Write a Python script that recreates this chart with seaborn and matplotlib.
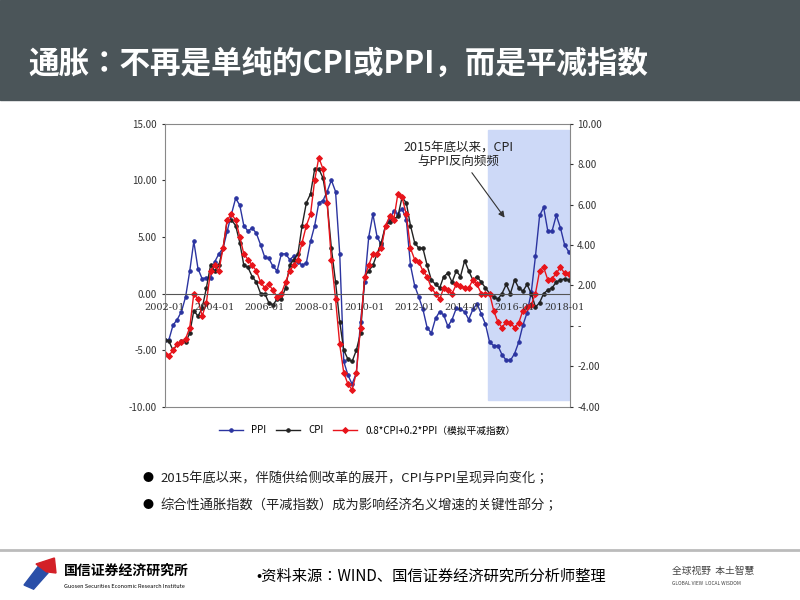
import matplotlib
matplotlib.use('Agg')
import matplotlib.pyplot as plt
import matplotlib.patches as mpatches
from matplotlib import font_manager
from matplotlib.ticker import FuncFormatter
import seaborn as sns
import pandas as pd

names = {f.name for f in font_manager.fontManager.ttflist}
cjk = [n for n in ['Noto Sans CJK SC', 'Noto Sans CJK JP', 'Noto Sans CJK TC',
                   'Noto Sans CJK KR'] if n in names]
plt.rcParams['font.family'] = cjk + ['DejaVu Sans']

# bi-monthly readings, 2002-01 .. 2018-03
ppi = [-4.1, -4.1, -2.8, -2.3, -1.6, -0.3,
       2.0, 4.6, 2.2, 1.3, 1.4, 1.4,
       2.8, 3.5, 4.0, 5.5, 7.0, 8.4,
       7.8, 6.0, 5.5, 5.8, 5.3, 4.3,
       3.2, 3.1, 2.4, 2.0, 3.5, 3.5,
       3.0, 3.3, 2.8, 2.5, 2.7, 4.6,
       6.0, 8.0, 8.2, 9.0, 10.0, 9.0,
       3.5, -6.0, -7.2, -8.0, -7.0, -2.5,
       1.0, 5.0, 7.0, 5.0, 4.3, 6.0,
       6.5, 7.3, 7.0, 7.5, 6.5, 2.5,
       0.7, -0.3, -1.4, -3.0, -3.5, -2.2,
       -1.6, -1.9, -2.9, -2.3, -1.3, -1.4,
       -1.6, -2.3, -1.4, -0.9, -1.8, -2.7,
       -4.3, -4.6, -4.6, -5.4, -5.9, -5.9,
       -5.3, -4.3, -2.8, -1.7, 0.1, 3.3,
       6.9, 7.6, 5.5, 5.5, 6.9, 5.8,
       4.3, 3.7]
cpi = [-4.1, -4.2, -5.0, -4.5, -4.2, -4.3,
       -3.5, -1.5, -2.0, -1.3, 0.5, 2.5,
       2.0, 2.5, 4.0, 6.5, 6.5, 6.0,
       4.5, 2.5, 2.3, 1.5, 1.0, 0.0,
       0.0, -0.8, -1.0, -0.5, -0.5, 0.5,
       2.5, 3.0, 3.5, 6.0, 8.0, 8.8,
       11.0, 11.0, 10.2, 8.0, 4.0, 1.0,
       -2.5, -5.0, -5.8, -6.0, -5.0, -3.5,
       1.5, 2.0, 2.5, 3.5, 4.5, 6.0,
       6.3, 6.6, 6.8, 8.5, 8.0, 6.0,
       4.5, 4.0, 4.0, 2.5, 1.2, 0.8,
       0.5, 1.5, 1.8, 1.0, 2.0, 1.5,
       2.9, 2.0, 1.2, 1.5, 1.0, 0.5,
       0.0, -0.3, -0.5, 0.0, 0.8, 0.0,
       1.2, 0.5, 0.2, 0.8, 0.0, -1.2,
       -0.8, 0.0, 0.3, 0.5, 1.0, 1.2,
       1.3, 1.2]
deflator = [-5.3, -5.5, -5.0, -4.5, -4.3, -4.0,
            -3.0, 0.0, -0.5, -2.0, -0.8, 2.0,
            2.5, 2.0, 4.0, 6.5, 7.0, 6.5,
            5.0, 3.5, 3.0, 2.5, 2.0, 1.0,
            0.5, 0.8, 0.3, -0.3, 0.0, 1.0,
            2.0, 2.5, 3.0, 4.5, 6.0, 7.0,
            10.0, 12.0, 11.0, 8.0, 3.0, -0.5,
            -4.5, -7.0, -8.0, -8.5, -7.0, -3.0,
            1.5, 2.5, 3.5, 3.5, 4.0, 6.0,
            6.8, 6.5, 8.8, 8.5, 7.0, 4.0,
            3.0, 2.8, 2.0, 1.5, 0.5, 0.0,
            -0.5, 0.5, 0.3, 0.0, 0.8, 0.7,
            0.5, 0.5, 1.2, 0.8, 0.0, 0.0,
            0.0, -1.5, -2.5, -3.0, -2.5, -2.6,
            -3.0, -2.6, -1.5, -1.2, -1.0, 0.0,
            2.0, 2.3, 1.2, 1.3, 1.8, 2.3,
            1.8, 1.7]
x_labels = ['2002-01', '2004-01', '2006-01', '2008-01',
            '2010-01', '2012-01', '2014-01', '2016-01', '2018-01']
right_ticks = [10, 8, 6, 4, 2, 0, -2, -4]
title = '通胀：不再是单纯的CPI或PPI，而是平减指数'
bullets = ['2015年底以来，伴随供给侧改革的展开，CPI与PPI呈现异向变化；',
           '综合性通胀指数（平减指数）成为影响经济名义增速的关键性部分；']

dates = pd.date_range('2002-01-01', periods=len(ppi), freq='2MS')
df = pd.DataFrame({'date': dates, 'PPI': ppi, 'CPI': cpi, 'DEF': deflator})

fig = plt.figure(figsize=(8, 6), dpi=100)
fig.patch.set_facecolor('white')

# title bar
fig.patches.append(mpatches.Rectangle((0, 0.833), 1, 0.167, transform=fig.transFigure,
                                      color='#4b5559', zorder=0))
fig.text(0.035, 0.893, title, color='white', fontsize=22, fontweight='bold', va='center')

ax = fig.add_axes([0.206, 0.322, 0.506, 0.472])
ax.axvspan(pd.Timestamp('2014-12-01'), pd.Timestamp('2018-03-01'),
           ymin=0.024, ymax=0.976, color='#cdd9f7', zorder=0)
sns.lineplot(data=df, x='date', y='PPI', ax=ax, color='#2b34a0', lw=1,
             marker='o', ms=2.5, mec='#2b34a0', label='PPI')
sns.lineplot(data=df, x='date', y='CPI', ax=ax, color='#222222', lw=1,
             marker='o', ms=2.5, mec='#222222', label='CPI')
sns.lineplot(data=df, x='date', y='DEF', ax=ax, color='#e8141b', lw=1,
             marker='D', ms=3, mec='#e8141b', label='0.8*CPI+0.2*PPI（模拟平减指数）')
ax.axhline(0, color='#555555', lw=0.8)
ax.set_ylim(-10, 15)
ax.set_xlim(pd.Timestamp('2002-01-01'), pd.Timestamp('2018-03-15'))
ax.set_yticks([-10, -5, 0, 5, 10, 15])
ax.yaxis.set_major_formatter(FuncFormatter(lambda v, p: f'{v:.2f}'))
ax.tick_params(axis='y', labelsize=7, length=2, colors='#333333')
ax.set_xticks([])
ax.set_xlabel('')
ax.set_ylabel('')
for s in ['left', 'right', 'top', 'bottom']:
    ax.spines[s].set_color('#888888')
    ax.spines[s].set_linewidth(0.8)
for lab in x_labels:
    ax.text(pd.Timestamp(lab + '-01'), -1.2, lab, ha='center', va='center',
            fontsize=7, color='#333333', family='DejaVu Serif')

ax2 = ax.twinx()
ax2.set_ylim(-4, 10)
ax2.set_yticks(right_ticks)
ax2.yaxis.set_major_formatter(FuncFormatter(lambda v, p: '-' if v == 0 else f'{v:.2f}'))
ax2.tick_params(axis='y', labelsize=7, length=2, colors='#333333')
for s in ax2.spines.values():
    s.set_visible(False)

ax.annotate('2015年底以来，CPI\n与PPI反向频频', xy=(pd.Timestamp('2015-09-01'), 6.5),
            xytext=(pd.Timestamp('2013-10-01'), 12.3), ha='center', va='center',
            fontsize=9, color='#222222', linespacing=1.1,
            arrowprops=dict(arrowstyle='-|>', color='#333333', lw=0.8))

ax.legend(loc='upper center', bbox_to_anchor=(0.5, -0.035), ncol=3, frameon=False,
          fontsize=7, handlelength=2.5, columnspacing=1)

# bullets
for i, b in enumerate(bullets):
    y = 0.203 - i * 0.045
    fig.text(0.178, y, '●', fontsize=8, va='center')
    fig.text(0.2, y, b, fontsize=9.5, va='center', color='#222222')

# footer
fig.add_artist(plt.Line2D([0, 1], [0.083, 0.083], color='#bbbbbb', lw=2))
fig.patches.append(mpatches.Polygon([(0.030, 0.025), (0.050, 0.06), (0.060, 0.045), (0.042, 0.018)],
                                    transform=fig.transFigure, color='#2a4fa8'))
fig.patches.append(mpatches.Polygon([(0.045, 0.06), (0.068, 0.07), (0.070, 0.045), (0.058, 0.047)],
                                    transform=fig.transFigure, color='#d32027'))
fig.text(0.08, 0.048, '国信证券经济研究所', fontsize=10, fontweight='bold', va='center')
fig.text(0.08, 0.022, 'Guosen Securities Economic Research Institute', fontsize=4, va='center')
fig.text(0.32, 0.04, '•资料来源：WIND、国信证券经济研究所分析师整理', fontsize=11, va='center')
fig.text(0.84, 0.048, '全球视野  本土智慧', fontsize=7, va='center', color='#444444')
fig.text(0.84, 0.028, 'GLOBAL VIEW  LOCAL WISDOM', fontsize=3.5, va='center', color='#444444')

fig.savefig('out.png', dpi=100)
